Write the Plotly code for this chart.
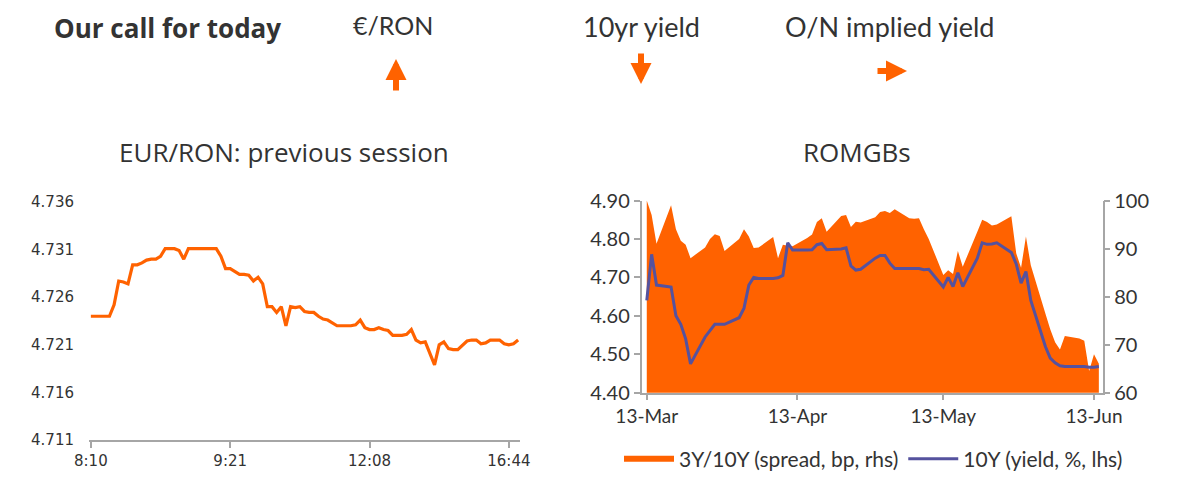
import plotly.graph_objects as go
import pandas as pd

W, H = 1200, 493
PAGE_OFFSET = 8  # browser body margin
ORANGE = "#FF6200"
BLUE = "#55529E"
TEXT = "#333333"
AXIS = "#A6A6A6"

# EUR/RON intraday (previous session)
eurron_idx = list(range(93))
eurron = [4.724, 4.724, 4.724, 4.724, 4.724, 4.7252, 4.7277, 4.7276, 4.7274, 4.7294,
          4.7294, 4.7296, 4.7299, 4.7300, 4.7300, 4.7303, 4.7311, 4.7311, 4.7311, 4.7309,
          4.7300, 4.7311, 4.7311, 4.7311, 4.7311, 4.7311, 4.7311, 4.7311, 4.7303, 4.7290,
          4.7290, 4.7287, 4.7284, 4.7284, 4.7283, 4.7277, 4.7281, 4.7274, 4.7250, 4.7250,
          4.7244, 4.7250, 4.7230, 4.7250, 4.7249, 4.7250, 4.7245, 4.7244, 4.7244, 4.7240,
          4.7237, 4.7236, 4.7233, 4.7230, 4.7230, 4.7230, 4.7230, 4.7231, 4.7236, 4.7228,
          4.7226, 4.7226, 4.7228, 4.7226, 4.7225, 4.7220, 4.7220, 4.7220, 4.7221, 4.7226,
          4.7215, 4.7212, 4.7213, 4.7202, 4.7189, 4.7210, 4.7213, 4.7206, 4.7205, 4.7205,
          4.7209, 4.7214, 4.7215, 4.7215, 4.7211, 4.7212, 4.7215, 4.7215, 4.7215, 4.7211,
          4.7210, 4.7211, 4.7215]
eurron_tickpos = [0, 30, 60, 90]
eurron_ticks = ["8:10", "9:21", "12:08", "16:44"]

# ROMGBs
dates = pd.bdate_range("2019-03-13", "2019-06-14")
spread_3y10y = [100, 97, 91, 99, 94, 91.6, 90.8, 88, 90.2, 92, 93, 92.6, 89.5,
                92, 94, 92.5, 90.1, 90.2, 92.4, 88, 90.8, 90.6, 90.5, 92.2, 92.9, 95.5, 96.3,
                93.5, 96.8, 97, 94.5, 95.6, 95.4, 96.5, 97.6,
                97.8, 97.4, 98.2, 96.3, 96.2, 96.3, 94, 92, 84.5, 85.5, 84.7, 89.5, 86.2,
                93.5, 96, 95.5, 94.8, 95, 96.7, 89, 86, 92.5, 86.5,
                76.5, 73.2, 70.5, 69, 71.8, 71.3, 70.8, 64.5, 68, 66]
yield_10y = [4.64, 4.76, 4.68, 4.675, 4.60, 4.578, 4.54, 4.475, 4.545, 4.56, 4.578, 4.578, 4.578,
             4.595, 4.62, 4.68, 4.70, 4.697, 4.697, 4.699, 4.705, 4.79, 4.771, 4.771, 4.772,
             4.785, 4.788, 4.772, 4.774, 4.777, 4.73, 4.719, 4.721, 4.75, 4.757,
             4.757, 4.737, 4.723, 4.723, 4.723, 4.723, 4.72, 4.721, 4.675, 4.70, 4.676, 4.712,
             4.676, 4.75, 4.79, 4.786, 4.787, 4.79, 4.765, 4.735, 4.685, 4.715, 4.64,
             4.52, 4.49, 4.478, 4.47, 4.468, 4.468, 4.468, 4.466, 4.466, 4.468]
romgb_tickdates = ["2019-03-13", "2019-04-13", "2019-05-13", "2019-06-13"]


def px(x):
    return (x - PAGE_OFFSET) / W


def py(y):
    return 1 - (y - PAGE_OFFSET) / H


fig = go.Figure()

fig.add_trace(go.Scatter(x=eurron_idx, y=eurron, mode="lines",
                         line=dict(color=ORANGE, width=3.2),
                         xaxis="x", yaxis="y", showlegend=False))

fig.add_trace(go.Scatter(x=dates, y=spread_3y10y, mode="none", fill="tozeroy",
                         fillcolor=ORANGE, name="3Y/10Y (spread, bp, rhs)",
                         xaxis="x2", yaxis="y3"))
fig.add_trace(go.Scatter(x=dates, y=yield_10y, mode="lines",
                         line=dict(color=BLUE, width=3),
                         name="10Y (yield, %, lhs)",
                         xaxis="x2", yaxis="y4"))

axis_style = dict(showgrid=False, zeroline=False, automargin=False)
line_style = dict(showline=True, linecolor=AXIS, linewidth=1.5,
                  ticks="outside", ticklen=6, tickcolor=AXIS, tickwidth=1.5)

fig.update_layout(
    width=W, height=H,
    margin=dict(l=0, r=0, t=0, b=0, autoexpand=False),
    paper_bgcolor="white", plot_bgcolor="white",
    font=dict(family="Lato", color=TEXT),
    xaxis=dict(domain=[px(89), px(520)], range=[-0.4, 92.4],
               tickvals=eurron_tickpos, ticktext=eurron_ticks,
               tickfont=dict(family="DejaVu Sans", size=15, color=TEXT),
               **line_style, **axis_style),
    yaxis=dict(domain=[py(440), py(202)], range=[4.711, 4.736], dtick=0.005,
               tick0=4.711, tickformat=".3f", showline=False, ticklabelstandoff=14,
               tickfont=dict(family="DejaVu Sans", size=15, color=TEXT),
               **axis_style),
    xaxis2=dict(domain=[px(641.5), px(1102.5)], anchor="y3",
                range=["2019-03-11 22:00", "2019-06-14 18:00"],
                tickvals=romgb_tickdates, tickformat="%d-%b",
                tickfont=dict(size=19, color=TEXT),
                **line_style, **axis_style),
    yaxis3=dict(domain=[py(392.7), py(200.5)], anchor="x2", side="right",
                range=[60, 100], dtick=10,
                tickfont=dict(size=20, color=TEXT),
                **line_style, **axis_style),
    yaxis4=dict(overlaying="y3", anchor="x2", side="left",
                range=[4.40, 4.90], dtick=0.1, tickformat=".2f",
                tickfont=dict(size=20, color=TEXT),
                **line_style, **axis_style),
    legend=dict(orientation="h", x=px(619), xanchor="left", y=py(459),
                yanchor="middle", itemwidth=50, bgcolor="rgba(0,0,0,0)",
                font=dict(size=21, color=TEXT), tracegroupgap=0),
)

header = [
    ("<b>Our call for today</b>", 53, "left", "Open Sans", 26),
    ("€/RON", 393, "center", "Lato", 25),
    ("10yr yield", 641, "center", "Lato", 27),
    ("O/N implied yield", 889, "center", "Lato", 27),
]
for txt, x, anchor, fam, size in header:
    fig.add_annotation(text=txt, x=px(x), y=py(9), xref="paper", yref="paper",
                       showarrow=False, xanchor=anchor, yanchor="top", borderpad=0,
                       font=dict(family=fam, size=size, color=TEXT))

for txt, x in [("EUR/RON: previous session", 284), ("ROMGBs", 857)]:
    fig.add_annotation(text=txt, x=px(x), y=py(152), xref="paper", yref="paper",
                       showarrow=False, xanchor="center", yanchor="middle",
                       font=dict(family="Open Sans", size=26, color=TEXT))

# call arrows: up, down, right
for hx, hy, ax, ay in [(396, 59, 0, 33), (641, 84, 0, -32), (907, 71, -31, 0)]:
    fig.add_annotation(text="", x=px(hx), y=py(hy), xref="paper", yref="paper",
                       showarrow=True, ax=ax, ay=ay, arrowhead=2, arrowsize=0.7,
                       arrowwidth=6, arrowcolor=ORANGE, standoff=0)

fig.write_html("out.html")
